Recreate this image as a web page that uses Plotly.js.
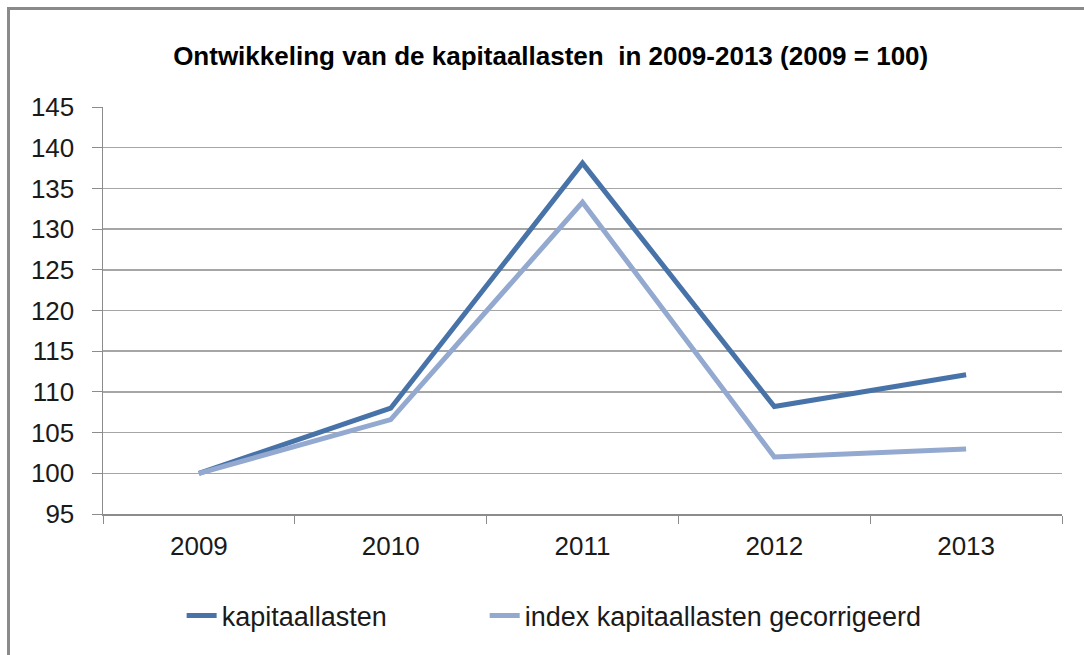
<!DOCTYPE html>
<html>
<head>
<meta charset="utf-8">
<script src="https://cdn.plot.ly/plotly-3.0.1.min.js"></script>
<style>
  body { margin: 0; background: #fff; }
  #frame { position: absolute; left: 7px; top: 7px; width: 1100px; height: 700px;
           border-left: 3px solid #8a8a8a; border-top: 3px solid #8a8a8a; }
  #chart { position: absolute; left: 0; top: 0; }
</style>
</head>
<body>
<div id="frame"></div>
<div id="chart"></div>
<script>
const years = ['2009', '2010', '2011', '2012', '2013']
const kapitaallasten = [100, 108.0, 138.1, 108.2, 112.1]
const gecorrigeerd = [100, 106.6, 133.3, 102.0, 103.0]
const yTicks = [95, 100, 105, 110, 115, 120, 125, 130, 135, 140, 145]

const font = 'Liberation Sans, Arial, sans-serif'

const traces = [
    {
        x: years,
        y: kapitaallasten,
        name: 'kapitaallasten',
        type: 'scatter',
        mode: 'lines',
        line: { color: '#4773a9', width: 5 },
        legend: 'legend'
    },
    {
        x: years,
        y: gecorrigeerd,
        name: 'index kapitaallasten gecorrigeerd',
        type: 'scatter',
        mode: 'lines',
        line: { color: '#93a9cf', width: 5 },
        legend: 'legend2'
    }
]

const legendStyle = {
    orientation: 'h',
    xanchor: 'left',
    y: -0.19,
    yanchor: 'top',
    font: { size: 27 },
    bgcolor: 'rgba(0,0,0,0)'
}

const layout = {
    width: 1084,
    height: 655,
    margin: { l: 103, r: 22, t: 107, b: 141 },
    paper_bgcolor: 'rgba(0,0,0,0)',
    plot_bgcolor: 'rgba(0,0,0,0)',
    font: { family: font, size: 26, color: '#1a1a1a' },
    title: {
        text: '<b>Ontwikkeling van de kapitaallasten  in 2009-2013 (2009 = 100)</b>',
        font: { family: font, size: 26, color: '#000' },
        x: 0.508,
        xanchor: 'center',
        y: 0.915,
        yanchor: 'middle'
    },
    xaxis: {
        type: 'category',
        range: [-0.5, 4.5],
        tickson: 'boundaries',
        ticks: 'outside',
        ticklen: 8,
        tickcolor: '#8c8c8c',
        showline: true,
        linecolor: '#8c8c8c',
        linewidth: 1.5,
        showgrid: false,
        tickfont: { size: 26 },
        ticklabelstandoff: 8
    },
    yaxis: {
        range: [95, 145],
        tickvals: yTicks,
        ticktext: yTicks.map(String),
        ticks: 'outside',
        ticklen: 10,
        tickcolor: '#8c8c8c',
        showline: true,
        linecolor: '#8c8c8c',
        linewidth: 1.5,
        gridcolor: '#a6a6a6',
        gridwidth: 1.5,
        zeroline: false,
        tickfont: { size: 26 },
        ticklabelstandoff: 12
    },
    showlegend: true,
    legend: Object.assign({}, legendStyle, { x: 0.082 }),
    legend2: Object.assign({}, legendStyle, { x: 0.398 })
}

Plotly.newPlot('chart', traces, layout, { displayModeBar: false, staticPlot: true })
</script>
</body>
</html>
